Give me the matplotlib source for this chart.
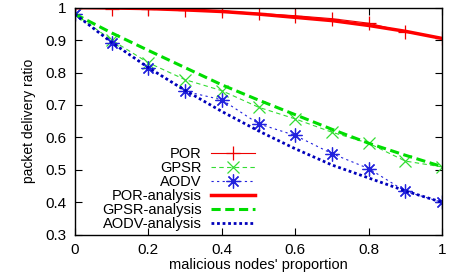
import matplotlib
matplotlib.use("Agg")
import matplotlib.pyplot as plt
from matplotlib.ticker import FuncFormatter

x = [0, 0.1, 0.2, 0.3, 0.4, 0.5, 0.6, 0.7, 0.8, 0.9, 1.0]

por = [1.0, 0.997, 0.995, 0.993, 0.99, 0.982, 0.975, 0.966, 0.952, 0.925, 0.905]
gpsr = [0.98, 0.90, 0.83, 0.778, 0.744, 0.693, 0.657, 0.616, 0.582, 0.527, 0.509]
aodv = [0.98, 0.89, 0.815, 0.742, 0.716, 0.642, 0.606, 0.55, 0.504, 0.434, 0.40]

por_an = [1.0, 0.999, 0.997, 0.993, 0.988, 0.98, 0.97, 0.96, 0.945, 0.927, 0.905]
gpsr_an = [0.98, 0.922, 0.868, 0.815, 0.762, 0.715, 0.67, 0.625, 0.582, 0.545, 0.51]
aodv_an = [0.98, 0.893, 0.815, 0.745, 0.68, 0.62, 0.565, 0.515, 0.475, 0.435, 0.40]

plt.rcParams['font.family'] = ['Liberation Sans', 'DejaVu Sans']
plt.rcParams['font.size'] = 11

fig = plt.figure(figsize=(4.6, 2.72), dpi=100)
ax = fig.add_axes([0.163, 0.137, 0.798, 0.835])

ax.plot(x, por, color='#ee0000', lw=0.8, marker='+', ms=10, mew=0.9, label='POR')
ax.plot(x, gpsr, color='#33dd33', lw=0.8, ls=(0, (4, 3)), marker='x', ms=8, mew=0.9, label='GPSR')
ax.plot(x, aodv, color='#2222dd', lw=0.8, ls=(0, (2, 3)), marker=(8, 2, 0), ms=10, mew=0.9, label='AODV')
ax.plot(x, por_an, color='#ff0000', lw=2.5, label='POR-analysis')
ax.plot(x, gpsr_an, color='#00dd00', lw=2.2, ls=(0, (3, 1.5)), label='GPSR-analysis')
ax.plot(x, aodv_an, color='#0000bb', lw=2.0, ls=(0, (1, 1)), label='AODV-analysis')

ax.set_xlim(0, 1)
ax.set_ylim(0.3, 1)
ax.set_xticks([0, 0.2, 0.4, 0.6, 0.8, 1])
ax.set_yticks([0.3, 0.4, 0.5, 0.6, 0.7, 0.8, 0.9, 1])
fmt = FuncFormatter(lambda v, p: '%g' % round(v, 2))
ax.xaxis.set_major_formatter(fmt)
ax.yaxis.set_major_formatter(fmt)
ax.tick_params(direction='in', length=5, width=0.8, top=True, right=True, pad=6)
for s in ax.spines.values():
    s.set_linewidth(1.0)

ax.set_xlabel("malicious nodes' proportion", labelpad=1, fontsize=10.5)
ax.set_ylabel("packet delivery ratio", labelpad=7, fontsize=10)

ax.legend(loc='center', bbox_to_anchor=(0.282, 0.201), frameon=False,
          markerfirst=False, handlelength=3.0, handletextpad=0.65,
          labelspacing=0.0, borderpad=0, fontsize=10.5)

fig.savefig("out.png", dpi=100)
plt.close(fig)
